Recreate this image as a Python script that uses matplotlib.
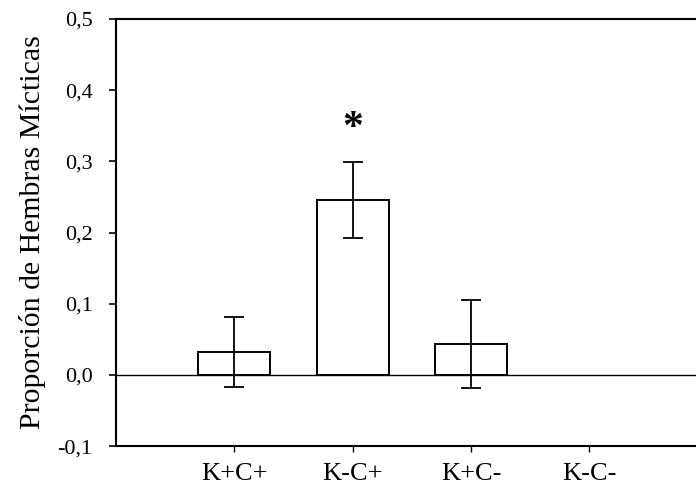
import matplotlib
matplotlib.use("Agg")
import matplotlib.pyplot as plt

plt.rcParams["font.family"] = ["Liberation Serif", "DejaVu Serif"]

# datos
grupos = ["K+C+", "K-C+", "K+C-", "K-C-"]
proporcion = [0.032, 0.246, 0.043, 0.0]
error = [0.049, 0.053, 0.062, 0.0]
yticks = [-0.1, 0.0, 0.1, 0.2, 0.3, 0.4, 0.5]
ytick_labels = ["-0,1", "0,0", "0,1", "0,2", "0,3", "0,4", "0,5"]

fig = plt.figure(figsize=(6.96, 4.99), dpi=100)
ax = fig.add_axes([0.1667, 0.106, 0.8333, 0.856])

x = list(range(len(grupos)))
ax.bar(x[:3], proporcion[:3], width=0.61, color="white", edgecolor="black",
       linewidth=1.4, zorder=3)
ax.errorbar(x[:3], proporcion[:3], yerr=error[:3], fmt="none", ecolor="black",
            elinewidth=1.3, capsize=7, capthick=1.3, zorder=4)
ax.axhline(0, color="black", linewidth=1.0, zorder=2)

# asterisco de significancia
ax.text(1, 0.345, "*", ha="center", va="center", fontsize=30, fontweight="bold")

ax.set_xlim(-1, 3.9)
ax.set_ylim(-0.1, 0.5)
ax.set_yticks(yticks)
ax.set_yticklabels(ytick_labels, fontsize=16)
ax.set_xticks(x)
ax.set_xticklabels(grupos, fontsize=19)
ax.tick_params(axis="y", direction="out", length=5, width=1.2, pad=12)
ax.tick_params(axis="x", direction="out", length=4, width=1.0, pad=8)
ax.set_ylabel("Proporción de Hembras Mícticas", fontsize=21.5, labelpad=8)

for s in ["left", "top", "bottom"]:
    ax.spines[s].set_linewidth(1.5)
ax.spines["right"].set_visible(False)

fig.savefig("out.png", dpi=100)
